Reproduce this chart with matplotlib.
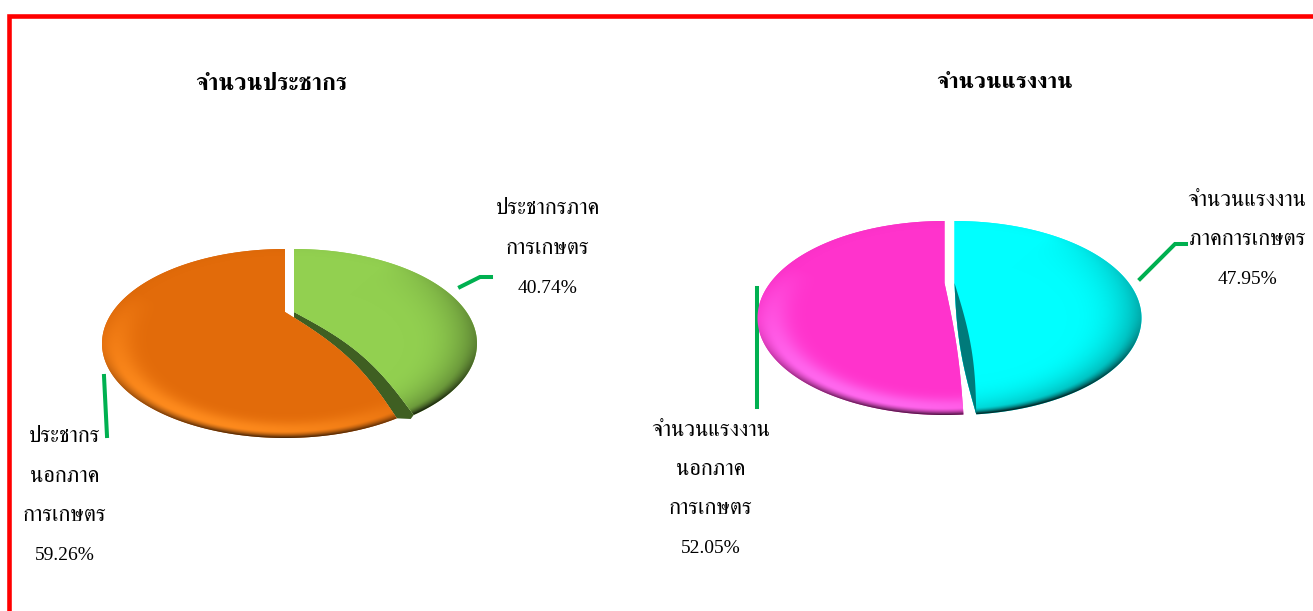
import numpy as np
import matplotlib
matplotlib.use('Agg')
import matplotlib.pyplot as plt
from matplotlib.patches import Polygon

# data
titles = ['จำนวนประชากร', 'จำนวนแรงงาน']
left_values = [40.74, 59.26]
right_values = [47.95, 52.05]
left_labels = ['ประชากรภาค\nการเกษตร', 'ประชากร\nนอกภาค\nการเกษตร']
right_labels = ['จำนวนแรงงาน\nภาคการเกษตร', 'จำนวนแรงงาน\nนอกภาค\nการเกษตร']
left_colors = ['#92D050', '#E26B0A']
right_colors = ['#00FFFF', '#FF33CC']
left_glow = ['#92D050', '#FF8C1E']
right_glow = ['#00FFFF', '#FF6AF0']

W, H = 1313, 611
THAI = ['Liberation Serif', 'FreeSerif']


def warp(theta, r, cx, apex_y, rx, up, down, k):
    # slanted disc: unit disc -> ellipse whose centre is not the pie centre
    c = (down - up) / (down + up)
    a = up * (1 + c)
    d = rx * np.sqrt(1 - c**2)
    tau = np.radians(90 - theta)
    tau = tau + np.radians(k) * np.sin(np.mod(tau, 2 * np.pi) / 2)
    u, v = r * np.sin(tau), r * np.cos(tau)
    return cx + d * u / (1 + c * v), apex_y - a * v / (1 + c * v)


def bowed(p0, p1, bow, n=40):
    # curved cut edge from p0 to p1
    s = np.linspace(0, 1, n)[:, None]
    return p0 + s * (p1 - p0) + np.sin(np.pi * s) * np.array(bow)


def shade(color, glow, cx, cy, rx, ry, k_light, k_dark):
    x, y = np.meshgrid(np.arange(0, W) + 0.5, np.arange(0, H) + 0.5)
    dx, dy = (x - cx) / rx, (y - cy) / ry
    rho = np.sqrt(dx**2 + dy**2) + 1e-6
    nx, ny = dx / rho, dy / rho
    t = np.clip((rho - 0.6) / 0.4, 0, 1.1)
    low = np.clip(nx * -0.55 + ny * 0.83, 0, 1)
    side = np.clip(nx * 0.85 + ny * 0.5, 0, 1)
    light = k_light * np.exp(-((t - 0.8) / 0.24)**2) * low**0.9
    rim = np.clip((t - 0.82) / 0.18, 0, 1)**1.6 * (0.02 + 0.72 * np.clip(ny, 0, 1)**1.3)
    wide = k_dark * t**2.5 * side
    base = np.array(matplotlib.colors.to_rgb(color))
    hi = np.array(matplotlib.colors.to_rgb(glow))
    img = base + (hi - base) * np.clip(light, 0, 1)[..., None]
    img = img * (1 - np.clip(rim + wide, 0, 0.8))[..., None]
    return np.clip(img, 0, 1)


def draw_pie(ax, values, colors, glows, geom, warps, bows, lights, darks, face, under=False, bulge=None):
    cx, apex_y, rx, up, down, gap = geom
    wedges, _ = ax.pie(values, colors=colors, startangle=90, counterclock=False, frame=True)
    cy = apex_y + (down - up) / 2
    ry = (down + up) / 2
    polys = []
    edges = []
    for i, w in enumerate(wedges):
        sx = gap if i == 0 else -gap
        theta = np.linspace(w.theta1, w.theta2, 200)
        xs, ys = warp(theta, w.r, cx, apex_y, rx, up, down, warps[i])
        arc = np.column_stack([xs + sx, ys])
        apex = np.array([cx + sx, apex_y])
        if i == 0:
            # arc runs from the lower end of the slice up to the top
            edge = bowed(apex, arc[0], bows[i])
            pts = np.vstack([edge, arc])
        else:
            edge = bowed(arc[-1], apex, bows[i])
            pts = np.vstack([arc, edge])
        polys.append(pts)
        edges.append(edge)
        w.remove()
    if under:
        # cut face fills the space between the two slices, white gap stays open on top
        tip = edges[0][-1] + np.array([-3, 4])
        fp = Polygon(np.vstack([edges[0], tip, edges[1]]), closed=True, fc=face, ec='none', zorder=1)
        ax.add_patch(fp)
        fp.set_clip_path(Polygon([[cx + gap, 0], [W, 0], [W, H], [cx + gap, H]], transform=ax.transData))
    for i, (pts, col) in enumerate(zip(polys, colors)):
        sx = gap if i == 0 else -gap
        p = Polygon(pts, closed=True, fc=col, ec='none', zorder=2)
        ax.add_patch(p)
        img = shade(col, glows[i], cx + sx, cy, rx, ry, lights[i], darks[i])
        im = ax.imshow(img, extent=(0, W, H, 0), origin='upper', aspect='auto',
                       zorder=3, interpolation='bilinear')
        im.set_clip_path(p)
    if bulge is not None:
        # cut face seen on top of the first slice
        s = np.linspace(0, 1, 40)[:, None]
        outer = edges[0] + np.sin(np.pi * s) * np.array(bulge)
        ax.add_patch(Polygon(np.vstack([edges[0], outer[::-1]]), closed=True, fc=face, ec='none', zorder=4))


fig = plt.figure(figsize=(W / 100, H / 100), dpi=100)
ax = fig.add_axes([0, 0, 1, 1])

draw_pie(ax, left_values, left_colors, left_glow, (289.5, 312, 183, 63, 126, 4.5), (4, 6.5),
         [(8, -8), (9, -6)], (0.0, 0.95), (0.42, 0.0), '#3F5F22', under=True)
draw_pie(ax, right_values, right_colors, right_glow, (949.5, 283, 187, 62, 132, 5), (2.8, 3.4),
         [(-5, 0), (3, 0)], (0.0, 0.95), (0.38, 0.0), '#007A7A', bulge=(11, 0))

ax.set_aspect('auto')
ax.set_xlim(0, W)
ax.set_ylim(H, 0)
ax.axis('off')

# frame
ax.plot([9.3, 9.3, W + 5], [H + 5, 15.5, 15.5], color='#FF0000', lw=3.3, solid_joinstyle='miter', clip_on=False)

# leader lines
green = '#00B050'
ax.plot([460, 480, 491], [287, 277, 277], color=green, lw=2.9, solid_joinstyle='miter')
ax.plot([104, 107], [376, 436], color=green, lw=2.9)
ax.plot([1140, 1175, 1186], [279, 244, 244], color=green, lw=2.9, solid_joinstyle='miter')
ax.plot([757, 757], [288, 407], color=green, lw=2.9)

ax.text(271, 84, titles[0], family=THAI, fontsize=17, fontweight='bold', ha='center', va='center')
ax.text(1005, 82, titles[1], family=THAI, fontsize=16.5, fontweight='bold', ha='center', va='center')


def label(x, y0, text, value):
    lines = text.split('\n')
    for i, line in enumerate(lines):
        ax.text(x, y0 + i * 39.3, line, family=THAI, fontsize=16, ha='center', va='center')
    ax.text(x, y0 + len(lines) * 39.3, '%.2f%%' % value, family=THAI, fontsize=14, ha='center', va='center')


label(548, 210, left_labels[0], left_values[0])
label(65, 438, left_labels[1], left_values[1])
label(1247, 201, right_labels[0], right_values[0])
label(711, 431, right_labels[1], right_values[1])

fig.savefig('out.png', dpi=100)
